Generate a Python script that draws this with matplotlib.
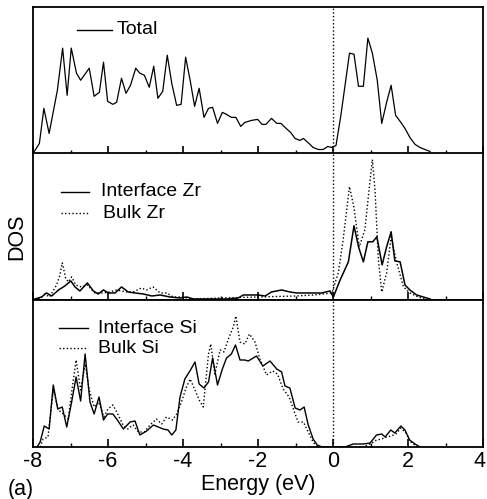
import matplotlib

matplotlib.use("Agg")
import matplotlib.pyplot as plt
from matplotlib.ticker import MultipleLocator
from matplotlib.transforms import ScaledTranslation

plt.rcParams["font.family"] = ["Liberation Sans", "DejaVu Sans"]

# Total DOS
total_e = [-8.00, -7.83, -7.71, -7.57, -7.35, -7.21, -7.09, -6.98, -6.84, -6.73,
           -6.50, -6.37, -6.23, -6.12, -6.01, -5.87, -5.77, -5.64, -5.52, -5.40,
           -5.26, -5.15, -5.03, -4.90, -4.78, -4.67, -4.54, -4.42, -4.30, -4.17,
           -4.05, -3.93, -3.81, -3.69, -3.57, -3.44, -3.32, -3.21, -3.08, -2.95,
           -2.84, -2.71, -2.59, -2.46, -2.35, -2.17, -2.01, -1.89, -1.79, -1.64,
           -1.50, -1.39, -1.25, -1.13, -1.01, -0.88, -0.79, -0.64, -0.53, -0.39,
           -0.26, -0.14, -0.03, 0.08, 0.21, 0.44, 0.56, 0.68, 0.81, 0.93,
           1.05, 1.18, 1.30, 1.43, 1.55, 1.67, 1.79, 1.92, 2.05, 2.19,
           2.32, 2.45, 2.59]
total_dos = [0, 10, 45, 20, 63, 105, 58, 105, 80, 73,
             85, 57, 61, 91, 52, 49, 51, 75, 60, 68,
             85, 80, 78, 66, 87, 55, 62, 98, 70, 48,
             49, 96, 73, 47, 65, 36, 45, 46, 30, 41,
             39, 36, 36, 27, 31, 33, 34, 29, 29, 35,
             30, 30, 25, 21, 15, 13, 15, 10, 6, 4,
             4, 7, 6, 8, 38, 100, 99, 67, 67, 115,
             100, 73, 30, 51, 68, 38, 32, 25, 16, 9,
             6, 4, 2]

# Zr projected DOS
zr_int_e = [-7.95, -7.77, -7.64, -7.50, -7.32, -7.15, -6.99, -6.88, -6.75, -6.55,
            -6.39, -6.26, -6.12, -5.99, -5.81, -5.64, -5.46, -5.28, -5.06, -4.83,
            -4.61, -4.35, -4.08, -3.90, -3.72, -3.37, -2.84, -2.53, -2.39, -1.99,
            -1.81, -1.64, -1.37, -1.15, -0.97, -0.61, -0.30, -0.08, 0.01, 0.19,
            0.41, 0.56, 0.68, 0.81, 0.93, 1.06, 1.17, 1.31, 1.43, 1.55,
            1.65, 1.79, 1.92, 2.05, 2.23, 2.41, 2.59]
zr_int_dos = [1, 3, 7, 4, 10, 14, 19, 13, 9, 17,
              9, 6, 10, 7, 7, 13, 8, 7, 6, 4,
              5, 3, 2, 3, 1, 1, 1, 2, 5, 5,
              4, 8, 10, 8, 7, 7, 7, 9, 3, 20,
              38, 74, 53, 38, 58, 58, 63, 35, 53, 68,
              39, 38, 15, 10, 5, 3, 1]
zr_bulk_e = [-7.95, -7.80, -7.68, -7.56, -7.37, -7.28, -7.22, -7.13, -7.06, -6.97,
             -6.86, -6.71, -6.55, -6.35, -6.12, -5.95, -5.77, -5.51, -5.33, -5.11,
             -4.97, -4.80, -4.61, -4.44, -4.26, -4.04, -3.73, -3.00, -2.00, -1.00,
             -0.50, -0.03, 0.14, 0.27, 0.44, 0.56, 0.70, 0.85, 0.97, 1.05,
             1.12, 1.21, 1.30, 1.43, 1.55, 1.70, 1.88, 2.05, 2.27, 2.49]
zr_bulk_dos = [0, 2, 6, 3, 15, 25, 37, 22, 18, 23,
               15, 13, 15, 7, 7, 8, 10, 8, 8, 12,
               10, 13, 7, 7, 3, 3, 1, 2, 3, 4,
               5, 7, 27, 60, 113, 92, 53, 70, 113, 140,
               110, 40, 8, 27, 63, 37, 13, 7, 3, 1]

# Si projected DOS
si_int_e = [-7.89, -7.81, -7.70, -7.57, -7.46, -7.34, -7.22, -7.10, -6.97, -6.85,
            -6.73, -6.61, -6.48, -6.37, -6.24, -6.12, -6.01, -5.87, -5.75, -5.59,
            -5.41, -5.28, -5.15, -4.97, -4.79, -4.66, -4.53, -4.40, -4.30, -4.19,
            -4.08, -3.95, -3.80, -3.68, -3.57, -3.44, -3.32, -3.21, -3.08, -2.95,
            -2.84, -2.71, -2.60, -2.48, -2.35, -2.26, -2.04, -1.87, -1.68, -1.50,
            -1.37, -1.28, -1.15, -1.01, -0.88, -0.77, -0.66, -0.53, -0.42, -0.29,
            0.32, 0.54, 0.81, 0.99, 1.16, 1.30, 1.39, 1.54, 1.65, 1.81,
            1.92, 2.04, 2.19, 2.32]
si_int_dos = [0, 5, 21, 18, 62, 38, 40, 20, 45, 70,
              46, 93, 45, 33, 50, 27, 33, 33, 27, 18,
              25, 26, 12, 16, 22, 20, 18, 17, 12, 17,
              50, 68, 77, 85, 63, 59, 65, 89, 62, 78,
              89, 93, 102, 87, 87, 86, 91, 81, 86, 78,
              75, 61, 59, 39, 37, 40, 22, 8, 2, 0,
              0, 3, 3, 4, 12, 13, 10, 17, 14, 21,
              17, 7, 3, 0]
si_bulk_e = [-7.81, -7.73, -7.60, -7.46, -7.32, -7.19, -7.06, -6.94, -6.85, -6.73,
             -6.61, -6.50, -6.37, -6.24, -6.11, -6.00, -5.87, -5.74, -5.60, -5.47,
             -5.33, -5.19, -5.03, -4.88, -4.71, -4.57, -4.44, -4.28, -4.17, -4.04,
             -3.93, -3.81, -3.68, -3.57, -3.46, -3.32, -3.26, -3.15, -3.01, -2.91,
             -2.77, -2.66, -2.59, -2.48, -2.35, -2.23, -2.08, -1.95, -1.77, -1.61,
             -1.48, -1.33, -1.17, -1.01, -0.93, -0.79, -0.66, -0.53, -0.43, 0.80,
             0.99, 1.16, 1.30, 1.43, 1.55, 1.68, 1.81, 1.95, 2.08, 2.21,
             2.35]
si_bulk_dos = [0, 8, 10, 57, 37, 33, 28, 63, 87, 57,
               83, 57, 40, 45, 30, 38, 42, 33, 22, 18,
               22, 15, 15, 22, 28, 23, 30, 27, 33, 45,
               58, 68, 57, 47, 40, 93, 103, 73, 97, 95,
               110, 120, 131, 105, 103, 113, 105, 88, 72, 76,
               73, 58, 50, 33, 25, 25, 15, 5, 0, 0,
               3, 7, 8, 10, 11, 13, 19, 14, 5, 1,
               0]

x_ticks = [-8, -6, -4, -2, 0, 2, 4]

W, H = 487, 499
left_px, right_px = 33, 483
edges_px = [7, 153.5, 300, 447]
FS_LEG = 14
FS_AX = 15.5
DOT = (0, (1, 1.6))


def frac_box(top_px, bottom_px):
    return [left_px / W, 1 - bottom_px / H, (right_px - left_px) / W,
            (bottom_px - top_px) / H]


fig = plt.figure(figsize=(W / 100, H / 100), dpi=100)
axes = [fig.add_axes(frac_box(edges_px[i], edges_px[i + 1])) for i in range(3)]

for ax, ymax in zip(axes, (146, 146, 147)):
    ax.set_xlim(-8, 4)
    ax.set_ylim(0, ymax)
    ax.axvline(0, color="black", linestyle=DOT, linewidth=1.0)
    ax.xaxis.set_major_locator(MultipleLocator(2))
    ax.xaxis.set_minor_locator(MultipleLocator(1))
    ax.tick_params(axis="x", which="major", direction="in", length=6, width=1.2,
                   labelbottom=False, labelsize=FS_AX, pad=3)
    ax.tick_params(axis="x", which="minor", direction="in", length=3, width=1.0)
    ax.tick_params(axis="y", left=False, labelleft=False)
    for spine in ax.spines.values():
        spine.set_linewidth(1.3)

top, mid, bot = axes

top.plot(total_e, total_dos, color="black", linewidth=0.9)
mid.plot(zr_bulk_e, zr_bulk_dos, color="black", linestyle=DOT, linewidth=1.0)
mid.plot(zr_int_e, zr_int_dos, color="black", linewidth=1.1)
bot.plot(si_bulk_e, si_bulk_dos, color="black", linestyle=DOT, linewidth=1.0)
bot.plot(si_int_e, si_int_dos, color="black", linewidth=1.0)

bot.set_xticks(x_ticks)
bot.set_xticklabels([str(t) for t in x_ticks])
bot.tick_params(axis="x", labelbottom=True)
bot.set_xlabel("Energy (eV)", fontsize=FS_AX, labelpad=1)

# the last label sits on the figure edge; nudge it inside a little
last = bot.get_xticklabels()[-1]
last.set_transform(last.get_transform() + ScaledTranslation(-4 / 100, 0, fig.dpi_scale_trans))


def legend_entry(ax, y_px, x0_px, x1_px, xt_px, text, style):
    # legend placed in pixel units of the figure, converted to axes fraction
    box = ax.get_position()
    ax_left = box.x0 * W
    ax_w = box.width * W
    ax_top = (1 - box.y1) * H
    ax_h = box.height * H
    yf = 1 - (y_px - ax_top) / ax_h
    ax.plot([(x0_px - ax_left) / ax_w, (x1_px - ax_left) / ax_w], [yf, yf],
            transform=ax.transAxes, color="black", linestyle=style, linewidth=1.0)
    ax.text((xt_px - ax_left) / ax_w, yf, text, transform=ax.transAxes,
            fontsize=FS_LEG, va="center", ha="left")


legend_entry(top, 30, 77, 112, 117, "Total", "-")
legend_entry(mid, 192, 61, 89, 101, "Interface Zr", "-")
legend_entry(mid, 213, 61, 89, 103, "Bulk Zr", DOT)
legend_entry(bot, 328, 59, 88, 98, "Interface Si", "-")
legend_entry(bot, 348, 59, 88, 98, "Bulk Si", DOT)

fig.text(17 / W, 1 - 237 / H, "DOS", rotation=90, fontsize=FS_AX,
         ha="center", va="center")
fig.text(8 / W, 1 - 489 / H, "(a)", fontsize=FS_AX, ha="left", va="center")

fig.savefig("out.png", dpi=100)
